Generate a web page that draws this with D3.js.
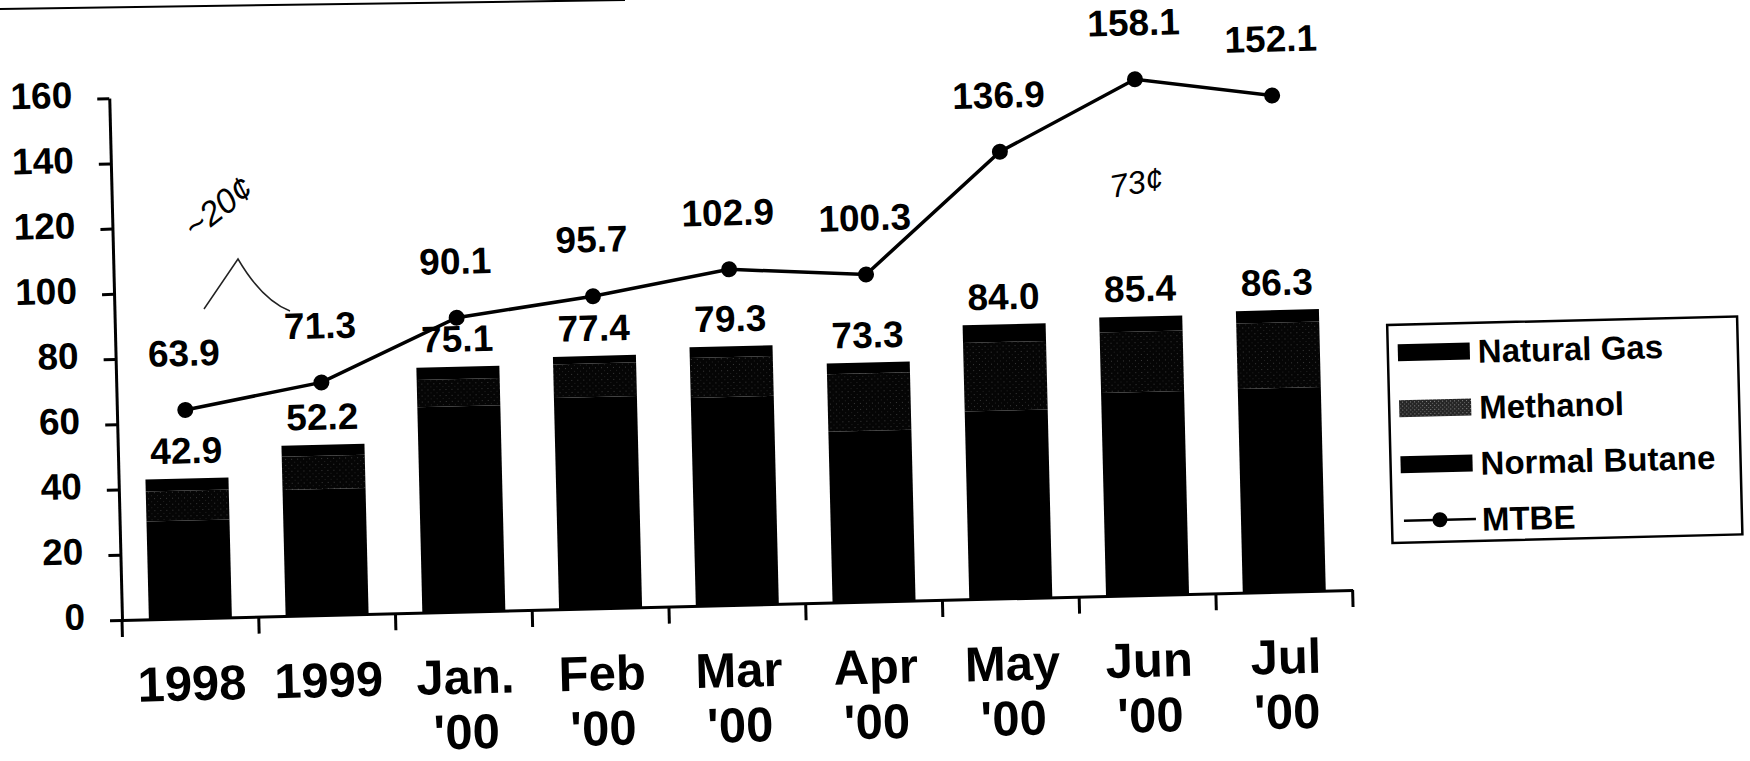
<!DOCTYPE html>
<html>
<head>
<meta charset="utf-8">
<script src="https://cdn.jsdelivr.net/npm/d3@7"></script>
<style>
  html, body { margin: 0; padding: 0; background: #fff; }
  svg { display: block; }
  text { font-family: "Liberation Sans", Arial, sans-serif; font-weight: bold; fill: #000; }
</style>
</head>
<body>
<svg id="chart" width="1750" height="761"></svg>
<script>
// ---------------- data ----------------
const categories = ["1998", "1999", "Jan.\n'00", "Feb\n'00", "Mar\n'00", "Apr\n'00", "May\n'00", "Jun\n'00", "Jul\n'00"];
const normalButane = [30.0, 38.6, 63.0, 64.8, 63.8, 52.4, 57.6, 62.2, 62.4];
const methanol     = [9.2, 10.2, 8.3, 10.3, 12.2, 17.6, 21.0, 18.6, 20.1];
const naturalGas   = [3.7, 3.4, 3.8, 2.3, 3.3, 3.3, 5.4, 4.6, 3.8];
const barTotals    = [42.9, 52.2, 75.1, 77.4, 79.3, 73.3, 84.0, 85.4, 86.3];
const mtbe         = [63.9, 71.3, 90.1, 95.7, 102.9, 100.3, 136.9, 158.1, 152.1];
const yTicks       = [0, 20, 40, 60, 80, 100, 120, 140, 160];
const seriesNames  = ["Natural Gas", "Methanol", "Normal Butane", "MTBE"];

// ---------------- setup ----------------
const svg = d3.select("#chart");
svg.append("rect").attr("width", 1750).attr("height", 761).attr("fill", "#fff");

const defs = svg.append("defs");
function speckle(id, bg, c1, c2, size) {
  const p = defs.append("pattern").attr("id", id)
    .attr("patternUnits", "userSpaceOnUse").attr("width", size).attr("height", size);
  p.append("rect").attr("width", size).attr("height", size).attr("fill", bg);
  p.append("rect").attr("x", 1).attr("y", 1).attr("width", 1).attr("height", 1).attr("fill", c1);
  p.append("rect").attr("x", Math.floor(size / 2) + 1).attr("y", Math.floor(size / 2) + 1)
    .attr("width", 1).attr("height", 1).attr("fill", c2);
}
speckle("methPat", "#050505", "#3a3a3a", "#222", 6);
speckle("methLeg", "#262626", "#8a8a8a", "#666", 4);

const x0 = 122, x1 = 1353, yBase = 620, yTop = 98;
const x = d3.scaleBand().domain(categories).range([x0, x1]).paddingInner(0.393).paddingOuter(0.1965);
const y = d3.scaleLinear().domain([0, 160]).range([yBase, yTop]);

// the scanned chart is slightly tilted
const g = svg.append("g").attr("transform", `rotate(-1.4, ${x0}, ${yBase})`);

// ---------------- stacked bars ----------------
const rows = categories.map((c, i) => ({ cat: c, butane: normalButane[i], methanol: methanol[i], gas: naturalGas[i] }));
const stack = d3.stack().keys(["butane", "methanol", "gas"])(rows);
const fills = { butane: "#000", methanol: "url(#methPat)", gas: "#000" };

g.selectAll("g.layer").data(stack).join("g").attr("class", "layer")
  .attr("fill", d => fills[d.key])
  .selectAll("rect").data(d => d).join("rect")
  .attr("x", d => x(d.data.cat))
  .attr("width", x.bandwidth())
  .attr("y", d => y(d[1]))
  .attr("height", d => y(d[0]) - y(d[1]));

// bar total labels
const fmt = d3.format(".1f");
g.selectAll("text.barLbl").data(barTotals).join("text").attr("class", "barLbl")
  .attr("x", (d, i) => x(categories[i]) + x.bandwidth() / 2)
  .attr("y", (d, i) => y(d3.sum([normalButane[i], methanol[i], naturalGas[i]])) - 15)
  .attr("text-anchor", "middle").attr("font-size", 37)
  .text(d => fmt(d));

// ---------------- axes ----------------
const yAxis = d3.axisLeft(y).tickValues(yTicks).tickSize(12).tickPadding(25).tickSizeOuter(0);
const ya = g.append("g").attr("transform", `translate(${x0},0)`).call(yAxis);
ya.select(".domain").attr("stroke", "#000").attr("stroke-width", 3);
ya.selectAll(".tick line").attr("stroke", "#000").attr("stroke-width", 3);
ya.selectAll(".tick text").attr("font-size", 37).attr("font-family", "Liberation Sans, Arial, sans-serif")
  .attr("font-weight", "bold").attr("fill", "#000").attr("dy", "0.22em");

// baseline with category boundary ticks
const xa = d3.axisBottom(x).tickValues([]).tickSizeOuter(0);
const xg = g.append("g").attr("transform", `translate(0,${yBase})`).call(xa);
xg.select(".domain").attr("stroke", "#000").attr("stroke-width", 3);
const bounds = d3.range(categories.length + 1).map(i => x0 + i * x.step());
g.selectAll("line.bTick").data(bounds).join("line").attr("class", "bTick")
  .attr("x1", d => d).attr("x2", d => d)
  .attr("y1", yBase).attr("y2", yBase + 17)
  .attr("stroke", "#000").attr("stroke-width", 3);

// category labels
const cl = g.selectAll("text.catLbl").data(categories).join("text").attr("class", "catLbl")
  .attr("text-anchor", "middle").attr("font-size", 49)
  .attr("transform", d => `translate(${x(d) + x.bandwidth() / 2},${yBase})`);
cl.selectAll("tspan").data(d => d.split("\n")).join("tspan")
  .attr("x", 0).attr("y", (d, i) => 82 + i * 55).text(d => d);

// ---------------- MTBE line ----------------
const cx = (d, i) => x(categories[i]) + x.bandwidth() / 2;
const line = d3.line().x((d, i) => cx(d, i)).y(d => y(d));
g.append("path").datum(mtbe).attr("d", line)
  .attr("fill", "none").attr("stroke", "#000").attr("stroke-width", 3.5);
g.selectAll("circle.pt").data(mtbe).join("circle").attr("class", "pt")
  .attr("cx", cx).attr("cy", d => y(d)).attr("r", 8).attr("fill", "#000");
g.selectAll("text.mLbl").data(mtbe).join("text").attr("class", "mLbl")
  .attr("x", cx).attr("y", d => y(d) - 44)
  .attr("text-anchor", "middle").attr("font-size", 37)
  .text(d => fmt(d));

// ---------------- legend ----------------
const lg = g.append("g").attr("transform", "translate(1394,356)");
lg.append("rect").attr("width", 350).attr("height", 218)
  .attr("fill", "#fff").attr("stroke", "#000").attr("stroke-width", 2.5);
const legFills = ["#000", "url(#methLeg)", "#000"];
const li = lg.selectAll("g.item").data(seriesNames).join("g").attr("class", "item")
  .attr("transform", (d, i) => `translate(0,${28 + i * 56})`);
li.filter((d, i) => i < 3).append("rect")
  .attr("x", 10).attr("y", -8.5).attr("width", 72).attr("height", 17)
  .attr("fill", (d, i) => legFills[i]);
const mItem = li.filter((d, i) => i === 3);
mItem.append("line").attr("x1", 12).attr("x2", 84).attr("y1", 0).attr("y2", 0)
  .attr("stroke", "#000").attr("stroke-width", 2.5);
mItem.append("circle").attr("cx", 48).attr("cy", 0).attr("r", 7.5).attr("fill", "#000");
li.append("text").attr("x", 90).attr("y", 0).attr("dy", "0.36em")
  .attr("font-size", 33).text(d => d);

// ---------------- scan artefacts / handwritten notes ----------------
svg.append("line").attr("x1", 0).attr("y1", 9).attr("x2", 625).attr("y2", 0)
  .attr("stroke", "#000").attr("stroke-width", 2);
const hand = svg.append("g").attr("font-family", "DejaVu Serif, serif")
  .attr("font-style", "italic").attr("font-weight", "normal");
hand.append("text").attr("transform", "translate(195,240) rotate(-38)")
  .attr("font-size", 34).style("font-weight", "200").attr("fill", "#111").text("~20¢");
hand.append("text").attr("transform", "translate(1112,198) rotate(-10)")
  .attr("font-size", 32).style("font-weight", "200").attr("fill", "#111").text("73¢");
svg.append("path").attr("d", "M204,309 L238,259 Q262,300 290,311")
  .attr("fill", "none").attr("stroke", "#222").attr("stroke-width", 1.5);
</script>
</body>
</html>
